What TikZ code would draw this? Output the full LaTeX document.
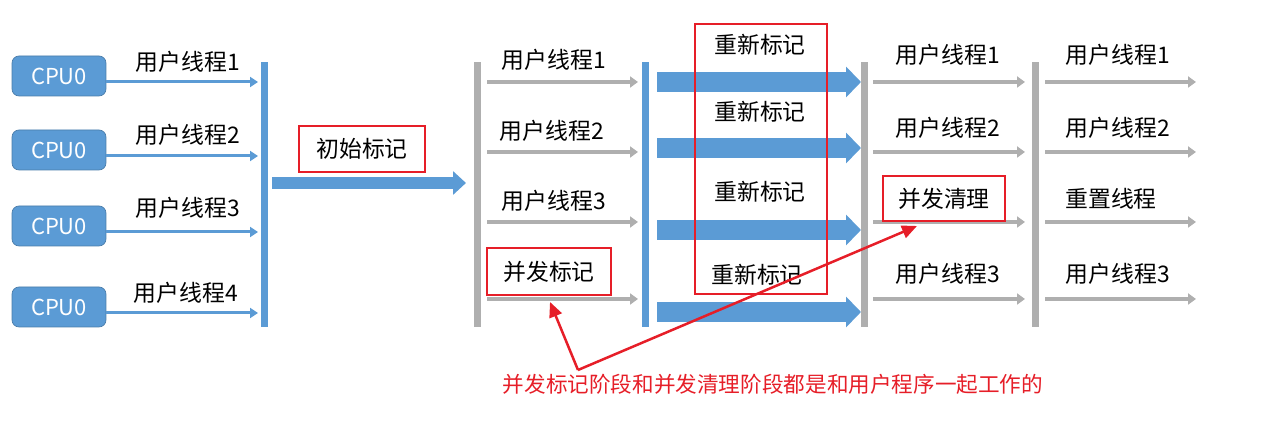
\documentclass[tikz,border=0pt]{standalone}
\usepackage{fontspec}
\setmainfont{Noto Sans CJK SC}
\usetikzlibrary{arrows.meta,calc}
\definecolor{cpublue}{RGB}{91,155,213}
\definecolor{bargray}{RGB}{175,175,175}
\definecolor{markred}{RGB}{230,30,40}
\tikzset{
  cpubox/.style={draw=cpublue!80!black,fill=cpublue,rounded corners=4pt,minimum width=1.88cm,minimum height=0.8cm,text=white,font=\fontsize{12.5}{14}\selectfont},
  lbl/.style={font=\fontsize{13}{15}\selectfont,inner sep=1pt},
  redbox/.style={draw=markred,line width=0.04cm,lbl,inner sep=0pt},
  thinblue/.style={cpublue,line width=0.06cm,-{Triangle[length=0.16cm,width=0.2cm]}},
  thingray/.style={bargray,line width=0.08cm,-{Triangle[length=0.16cm,width=0.22cm]}},
  fatblue/.style={cpublue,line width=0.4cm,-{Triangle[length=0.3cm,width=0.6cm]}},
  midblue/.style={cpublue,line width=0.24cm,-{Triangle[length=0.26cm,width=0.46cm]}},
  redarrow/.style={markred,line width=0.05cm,-{Triangle[length=0.3cm,width=0.26cm]}}
}
\begin{document}
\begin{tikzpicture}[x=0.02cm,y=-0.02cm]
\useasboundingbox (0,0) rectangle (1269,448);

% CPU boxes and their threads
\foreach \i/\y in {1/76,2/150,3/226,4/307}{
  \node[cpubox] (cpu\i) at (59,\y) {CPU0};
  \coordinate (te\i) at (258,\y+6);
  \draw[thinblue] (cpu\i.east |- te\i) -- (te\i);
}
\node[lbl] (t1) at (188,62) {用户线程1};
\node[lbl] (t2) at (188,135) {用户线程2};
\node[lbl] (t3) at (188,208) {用户线程3};
\node[lbl] (t4) at (186,293) {用户线程4};

% bars
\fill[cpublue] (261,62) rectangle (268,327);
\fill[bargray] (474,62) rectangle (481,327);
\fill[cpublue] (642,62) rectangle (649,327);
\fill[bargray] (861,62) rectangle (868,327);
\fill[bargray] (1032,62) rectangle (1039,327);

% initial mark
\coordinate (im0) at (272,183);
\coordinate (im1) at (466,183);
\draw[midblue] (im0) -- (im1);
\node[redbox,minimum width=2.52cm,minimum height=0.92cm] (init) at (362,149) {初始标记};

% concurrent mark phase
\foreach \y [count=\i] in {82,152,222,299}{
  \coordinate (ga\i) at (487,\y); \coordinate (gb\i) at (638,\y);
  \draw[thingray] (ga\i) -- (gb\i);
  \coordinate (gc\i) at (873,\y); \coordinate (gd\i) at (1025,\y);
  \draw[thingray] (gc\i) -- (gd\i);
  \coordinate (ge\i) at (1045,\y); \coordinate (gf\i) at (1196,\y);
  \draw[thingray] (ge\i) -- (gf\i);
}
\node[lbl] (m1) at (554,60) {用户线程1};
\node[lbl] (m2) at (552,131) {用户线程2};
\node[lbl] (m3) at (554,201) {用户线程3};
\node[redbox,minimum width=2.5cm,minimum height=0.94cm] (cmark) at (549,272) {并发标记};

% remark phase
\foreach \y [count=\i] in {82,148,230,312}{
  \coordinate (ra\i) at (657,\y); \coordinate (rb\i) at (861,\y);
  \draw[fatblue] (ra\i) -- (rb\i);
}
\node[lbl] (r1) at (760,45) {重新标记};
\node[lbl] (r2) at (760,112) {重新标记};
\node[lbl] (r3) at (760,192) {重新标记};
\node[lbl] (r4) at (757,275) {重新标记};
\draw[markred,line width=0.04cm] (695,24) rectangle (827,294);

% concurrent sweep phase
\node[lbl] (s1) at (948,55) {用户线程1};
\node[lbl] (s2) at (948,128) {用户线程2};
\node[redbox,minimum width=2.44cm,minimum height=0.9cm] (csweep) at (944,199) {并发清理};
\node[lbl] (s3) at (948,274) {用户线程3};

% reset phase
\node[lbl] (z1) at (1118,55) {用户线程1};
\node[lbl] (z2) at (1118,128) {用户线程2};
\node[lbl] (z3) at (1111,199) {重置线程};
\node[lbl] (z4) at (1118,274) {用户线程3};

% note
\node[lbl,font=\fontsize{12.3}{14}\selectfont,text=markred] (note) at (773,384) {并发标记阶段和并发清理阶段都是和用户程序一起工作的};
\coordinate (nt) at (578,370);
\draw[redarrow] (nt) -- (550,302);
\draw[redarrow] (nt) -- (917,226);
\end{tikzpicture}
\end{document}
